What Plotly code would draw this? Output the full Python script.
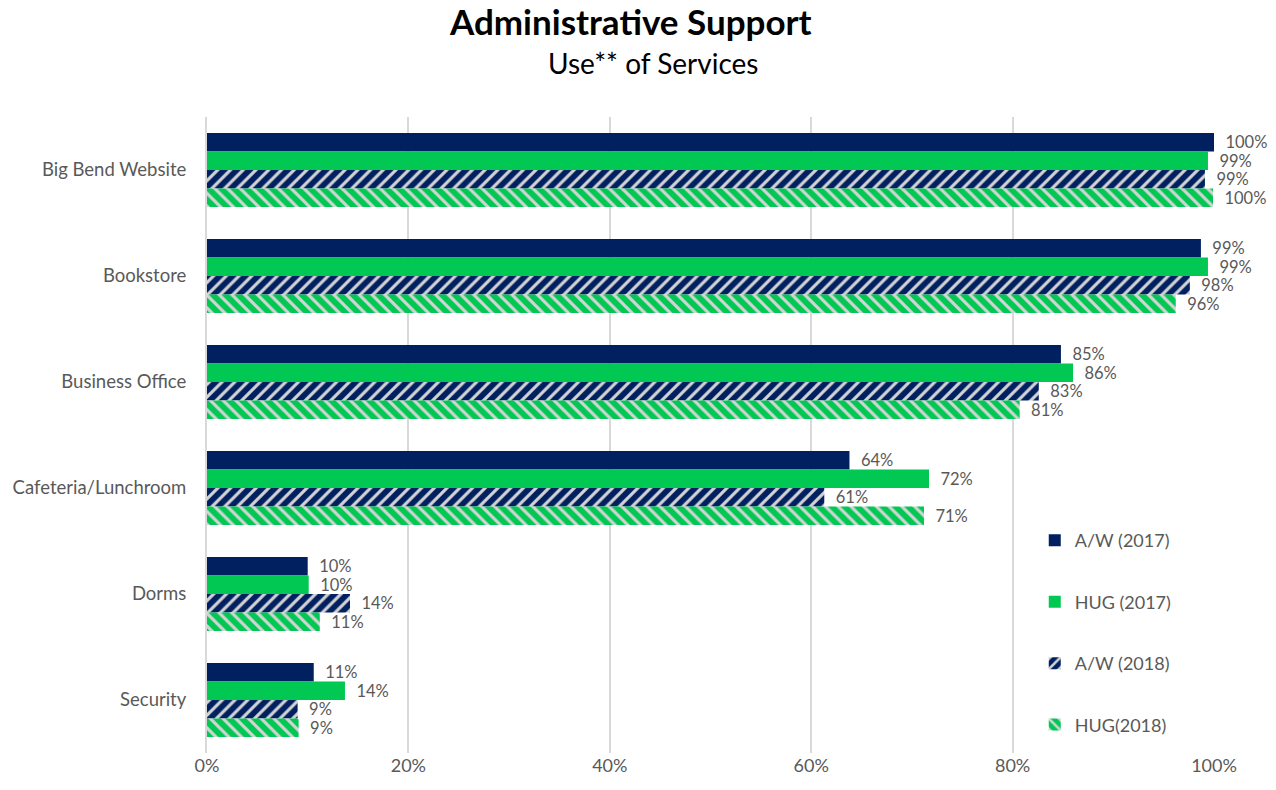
import plotly.graph_objects as go

# Survey results: share of respondents who used each service
categories = ["Big Bend Website", "Bookstore", "Business Office",
              "Cafeteria/Lunchroom", "Dorms", "Security"]
aw_2017 = [1.000, 0.987, 0.848, 0.638, 0.100, 0.106]
hug_2017 = [0.994, 0.994, 0.860, 0.717, 0.101, 0.137]
aw_2018 = [0.991, 0.976, 0.826, 0.613, 0.142, 0.090]
hug_2018 = [0.999, 0.962, 0.807, 0.712, 0.112, 0.091]

series_names = ["A/W (2017)", "HUG (2017)", "A/W (2018)", "HUG(2018)"]
x_ticks = [0, 0.2, 0.4, 0.6, 0.8, 1.0]
x_tick_labels = ["0%", "20%", "40%", "60%", "80%", "100%"]

NAVY = "#002060"
GREEN = "#00C853"
STRIPE = "#D4D4D4"
GRAY_TEXT = "#595959"
FONT = "Lato, 'Open Sans', sans-serif"

series = [
    (series_names[0], aw_2017, NAVY, None),
    (series_names[1], hug_2017, GREEN, None),
    (series_names[2], aw_2018, NAVY, "/"),
    (series_names[3], hug_2018, GREEN, "\\"),
]

PAD = "\u00a0\u00a0"  # small gap between bar end and its value label

fig = go.Figure()
for i, (name, vals, color, shape) in enumerate(series):
    marker = dict(color=color, line=dict(width=0))
    if shape:
        marker["pattern"] = dict(shape=shape, bgcolor=color, fgcolor=STRIPE,
                                 fillmode="replace", size=9, solidity=0.35)
    fig.add_trace(go.Bar(
        y=categories, x=vals, name=name, orientation="h",
        marker=marker, legendgroup=f"g{i}",
        texttemplate=PAD + "%{x:.0%}", textposition="outside",
        constraintext="none",
        textfont=dict(color=GRAY_TEXT, size=16.5, family=FONT),
        cliponaxis=False,
    ))

fig.update_layout(
    width=1276, height=790,
    margin=dict(l=207, r=62, t=117, b=37),
    paper_bgcolor="white", plot_bgcolor="white",
    barmode="group", bargap=0.3, bargroupgap=0,
    font=dict(family=FONT, color=GRAY_TEXT),
    showlegend=True,
    legend=dict(
        x=0.822, y=0.363, xanchor="left", yanchor="top",
        font=dict(size=18, color=GRAY_TEXT, family=FONT),
        tracegroupgap=35, bgcolor="rgba(0,0,0,0)",
    ),
    xaxis=dict(
        range=[0, 1], tickvals=x_ticks, ticktext=x_tick_labels,
        showgrid=True, gridcolor="#D9D9D9", gridwidth=2,
        zeroline=False, showline=False,
        tickfont=dict(size=18, color=GRAY_TEXT), ticks="",
    ),
    yaxis=dict(
        autorange="reversed", showgrid=False, zeroline=False,
        showline=True, linecolor="#D9D9D9", linewidth=2,
        tickfont=dict(size=18.5, color=GRAY_TEXT), ticks="",
        ticklabelstandoff=15,
    ),
    annotations=[
        dict(text="<b>Administrative Support</b>", x=630, y=21,
             xref="paper", yref="paper", showarrow=False,
             font=dict(size=35, color="black", family=FONT)),
        dict(text="Use** of Services", x=653, y=63,
             xref="paper", yref="paper", showarrow=False,
             font=dict(size=28, color="black", family=FONT)),
    ],
)

# place titles in pixel terms relative to the page
for ann in fig.layout.annotations:
    px, py = ann.x, ann.y
    ann.x = (px - 207) / (1276 - 207 - 62)
    ann.y = 1 + (117 - py) / (790 - 117 - 37)
    ann.xanchor = "center"
    ann.yanchor = "middle"

fig.write_html("out.html")
